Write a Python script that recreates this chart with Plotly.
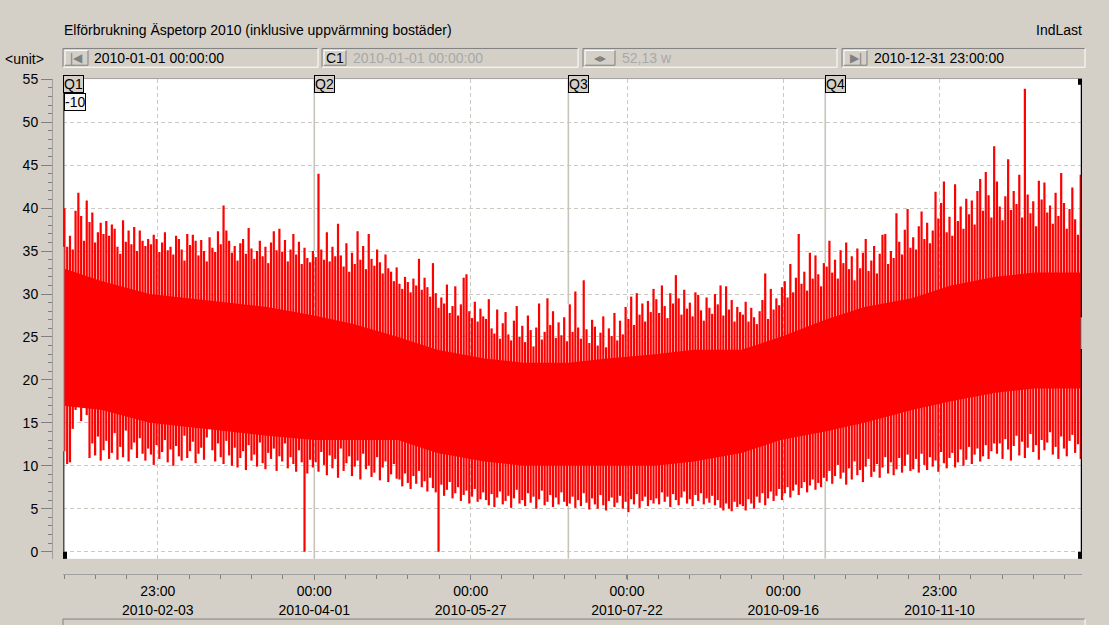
import plotly.graph_objects as go
import pandas as pd

# ---------------- data ----------------
# daily maximum ("<unit>") per month
max_jan = [40.0, 35.5, 36.8, 35.2, 39.7, 41.8, 39.1, 36.2, 40.9, 38.4, 39.5, 36.0, 37.2, 38.3, 37.0, 38.5,
           36.8, 38.1, 37.6, 35.5, 34.7, 38.6, 36.1, 37.4, 35.8, 37.8, 35.0, 37.4, 36.2, 35.6, 36.4]
max_feb = [35.8, 36.9, 36.4, 34.9, 36.0, 37.2, 35.1, 35.5, 34.6, 36.8, 36.4, 35.2, 33.9, 37.0, 35.7, 36.9,
           36.2, 34.5, 36.3, 35.0, 33.8, 36.6, 35.4, 34.9, 37.3, 35.8, 40.3, 37.4]
max_mar = [36.2, 34.8, 35.6, 33.9, 35.9, 36.4, 34.7, 37.7, 35.3, 34.1, 35.0, 36.2, 34.4, 35.5, 33.6, 36.0,
           37.3, 35.1, 37.6, 34.9, 36.3, 33.8, 35.2, 37.0, 34.6, 36.1, 33.5, 35.4, 34.2, 33.7, 35.0]
max_apr = [34.3, 44.0, 35.2, 34.0, 37.2, 33.8, 35.5, 34.4, 38.2, 34.5, 33.2, 35.9, 32.6, 34.8, 33.5, 37.3,
           34.0, 35.6, 32.9, 37.0, 34.1, 33.3, 35.2, 33.7, 32.4, 34.6, 33.0, 32.6, 31.5, 33.1]
max_may = [31.2, 30.6, 32.0, 31.4, 30.2, 31.8, 31.0, 34.1, 30.5, 31.9, 30.8, 29.7, 33.6, 30.1, 28.4, 29.6,
           28.9, 31.1, 27.8, 28.6, 30.9, 27.5, 28.8, 31.9, 32.3, 28.0, 27.2, 29.1, 26.8, 28.3, 27.4]
max_jun = [27.1, 29.4, 26.0, 25.4, 28.2, 24.8, 26.6, 27.9, 25.3, 24.6, 26.9, 28.6, 25.0, 26.3, 24.4, 27.5,
           25.8, 23.9, 26.1, 28.9, 24.7, 25.6, 29.5, 26.4, 28.0, 24.9, 26.7, 25.2, 27.3, 24.5]
max_jul = [28.8, 25.6, 30.3, 26.1, 24.8, 31.6, 25.9, 24.3, 27.0, 26.2, 24.0, 25.5, 27.4, 23.8, 26.0, 25.1,
           27.8, 24.6, 26.9, 25.3, 28.5, 27.1, 29.7, 26.4, 30.1, 27.6, 28.9, 26.8, 29.2, 27.9, 30.6]
max_aug = [29.4, 27.8, 31.0, 28.6, 27.2, 30.1, 28.9, 32.2, 29.5, 27.6, 30.5, 28.3, 29.0, 27.4, 30.2, 29.9,
           28.1, 26.9, 29.6, 28.4, 27.7, 30.0, 28.8, 31.0, 27.5, 30.9, 28.2, 29.3, 26.8, 28.5, 27.9]
max_sep = [27.6, 29.1, 26.8, 28.4, 27.3, 26.5, 28.0, 29.3, 32.4, 27.1, 30.6, 28.2, 29.5, 28.7, 30.8, 31.5,
           29.6, 33.5, 30.2, 31.9, 37.0, 31.2, 32.6, 30.4, 34.8, 31.8, 34.5, 32.3, 30.9, 33.6]
max_oct = [33.2, 36.2, 32.5, 34.0, 31.8, 35.1, 33.6, 36.0, 32.9, 34.4, 31.6, 35.3, 33.0, 34.8, 36.4, 32.7,
           33.9, 35.6, 32.4, 34.7, 36.9, 37.0, 33.5, 35.0, 34.2, 39.4, 36.1, 34.6, 37.5, 39.9, 35.4]
max_nov = [36.6, 35.2, 37.9, 39.6, 36.4, 38.3, 35.9, 37.4, 41.9, 38.8, 40.6, 43.1, 37.2, 39.0, 36.8, 42.8,
           38.5, 40.2, 37.6, 41.1, 39.3, 40.9, 38.1, 42.0, 43.4, 39.7, 44.2, 41.5, 38.9, 47.2]
max_dec = [43.1, 40.2, 38.6, 41.4, 45.7, 39.8, 42.0, 40.5, 43.9, 38.9, 53.9, 41.6, 39.4, 40.8, 37.9, 43.2,
           41.0, 43.0, 39.5, 40.3, 38.2, 41.8, 39.1, 44.1, 40.6, 37.6, 39.9, 42.4, 38.7, 36.9, 43.9]

# daily minimum per month
min_jan = [11.7, 10.2, 10.4, 14.3, 16.5, 17.3, 15.2, 16.8, 15.9, 10.9, 12.6, 11.2, 13.4, 10.6, 11.8, 12.9,
           10.8, 11.5, 13.8, 10.7, 12.2, 11.0, 14.1, 10.5, 11.9, 12.7, 10.9, 13.2, 11.4, 10.6, 12.0]
min_feb = [11.3, 10.1, 12.4, 10.8, 11.6, 13.0, 10.4, 11.9, 10.0, 12.3, 11.1, 10.6, 13.5, 10.9, 11.7, 12.8,
           10.3, 11.4, 12.1, 10.7, 13.3, 18.9, 11.8, 10.5, 12.6, 11.0, 10.2, 12.9]
min_mar = [11.2, 10.0, 12.1, 9.8, 10.9, 11.7, 9.5, 12.4, 10.6, 11.3, 9.9, 12.7, 10.3, 9.6, 11.5, 10.8,
           12.0, 9.4, 11.1, 10.5, 12.6, 9.7, 11.0, 10.2, 9.3, 11.8, 10.4, 0.0, 9.1, 10.7, 9.8]
min_apr = [10.4, 9.3, 11.6, 10.1, 8.9, 11.2, 9.7, 10.8, 8.6, 12.0, 9.4, 10.3, 11.1, 8.8, 9.9, 10.6,
           8.4, 11.4, 9.6, 10.0, 8.7, 9.2, 11.0, 8.3, 9.8, 10.5, 8.1, 9.0, 10.2, 8.5]
min_may = [8.4, 7.6, 9.1, 8.0, 7.3, 8.8, 7.9, 9.4, 7.5, 8.2, 7.0, 8.6, 7.4, 6.9, 0.0, 7.8,
           6.5, 7.2, 8.1, 6.2, 6.8, 7.5, 5.9, 6.6, 7.1, 5.6, 6.4, 7.3, 5.8, 6.1, 6.9]
min_jun = [6.0, 5.4, 6.7, 5.2, 6.3, 7.0, 5.5, 5.9, 6.5, 5.1, 6.2, 7.2, 5.6, 6.0, 5.3, 6.8,
           5.7, 6.4, 5.0, 6.1, 7.1, 5.4, 5.8, 6.6, 5.2, 6.3, 5.5, 6.9, 5.8, 5.3]
min_jul = [5.6, 6.4, 5.1, 6.0, 5.3, 6.8, 5.7, 4.9, 6.2, 5.5, 5.0, 6.6, 5.4, 4.8, 5.9, 6.3,
           5.2, 5.7, 6.5, 5.0, 5.8, 4.6, 6.1, 5.5, 6.7, 5.1, 5.9, 6.4, 5.3, 6.0, 5.6]
min_aug = [6.2, 5.5, 6.9, 5.8, 6.4, 5.2, 6.7, 6.0, 5.4, 6.3, 7.0, 5.6, 6.1, 5.3, 6.6, 5.9,
           6.8, 5.5, 6.2, 5.7, 6.5, 5.4, 6.0, 5.1, 4.8, 5.6, 5.0, 4.7, 5.8, 5.2, 5.5]
min_sep = [5.3, 4.8, 6.1, 5.6, 5.0, 6.4, 5.7, 6.8, 5.4, 6.2, 7.0, 5.9, 6.5, 7.3, 6.0, 6.8,
           7.5, 6.3, 7.1, 7.8, 6.6, 7.4, 8.1, 6.9, 7.7, 8.4, 7.2, 8.0, 7.5, 8.6]
min_oct = [8.2, 9.4, 7.9, 8.8, 10.1, 8.5, 9.2, 7.8, 9.7, 8.4, 10.5, 8.9, 9.5, 8.1, 9.9, 10.8,
           8.7, 9.3, 10.2, 8.6, 9.8, 11.0, 9.1, 10.4, 8.9, 9.6, 10.9, 9.2, 10.0, 11.3, 9.4]
min_nov = [9.6, 10.8, 9.2, 11.4, 10.1, 9.5, 11.0, 9.9, 10.6, 9.3, 11.6, 10.3, 9.7, 10.9, 11.5, 9.8,
           10.4, 11.9, 10.0, 10.7, 12.2, 10.2, 11.3, 12.0, 10.5, 11.1, 12.4, 10.8, 11.7, 12.6]
min_dec = [11.4, 12.6, 10.8, 13.1, 11.9, 10.6, 12.3, 13.5, 11.2, 12.8, 10.9, 12.1, 13.7, 11.6, 12.4, 10.7,
           13.0, 11.8, 12.7, 13.9, 11.3, 12.2, 10.8, 13.4, 12.0, 11.1, 12.9, 13.6, 11.5, 12.5, 10.8]

# solid core of the hourly band (semi-monthly)
core_dates = ["2010-01-01 00:00", "2010-01-15", "2010-02-01", "2010-02-15", "2010-03-01", "2010-03-15",
              "2010-04-01", "2010-04-15", "2010-05-01", "2010-05-15", "2010-06-01", "2010-06-15",
              "2010-07-01", "2010-07-15", "2010-08-01", "2010-08-15", "2010-09-01", "2010-09-15",
              "2010-10-01", "2010-10-15", "2010-11-01", "2010-11-15", "2010-12-01", "2010-12-15",
              "2010-12-31 23:00"]
core_high = [33.0, 31.5, 30.0, 29.5, 29.0, 28.5, 27.5, 26.5, 25.0, 23.5, 22.5, 22.0, 22.0, 22.5, 23.0,
             23.5, 23.5, 25.0, 27.0, 28.5, 29.5, 31.0, 32.0, 32.5, 32.5]
core_low = [17.0, 16.5, 15.0, 14.5, 14.0, 13.5, 13.0, 13.0, 13.0, 11.5, 10.5, 10.0, 10.0, 10.0, 10.0,
            10.5, 11.5, 13.0, 14.0, 15.0, 16.5, 17.5, 18.5, 19.0, 19.0]

# cursors
cursor_start = "2010-01-01 00:00"
cursor_end = "2010-12-31 23:00"
cursor_start_vals = [11.7, 35.5]
cursor_end_vals = [23.6, 27.3]

quarter_dates = ["2010-01-01 00:00", "2010-04-01", "2010-07-01", "2010-10-01"]
quarter_labels = ["Q1", "Q2", "Q3", "Q4"]

x_tickvals = ["2010-02-03 23:00", "2010-04-01 00:00", "2010-05-27 00:00",
              "2010-07-22 00:00", "2010-09-16 00:00", "2010-11-10 23:00"]
x_ticktext = ["23:00<br>2010-02-03", "00:00<br>2010-04-01", "00:00<br>2010-05-27",
              "00:00<br>2010-07-22", "00:00<br>2010-09-16", "23:00<br>2010-11-10"]
y_tickvals = [0, 5, 10, 15, 20, 25, 30, 35, 40, 45, 50, 55]
y_range = [-0.84, 55.07]

daily_max = (max_jan + max_feb + max_mar + max_apr + max_may + max_jun +
             max_jul + max_aug + max_sep + max_oct + max_nov + max_dec)
daily_min = (min_jan + min_feb + min_mar + min_apr + min_may + min_jun +
             min_jul + min_aug + min_sep + min_oct + min_nov + min_dec)
assert len(daily_max) == 365 and len(daily_min) == 365
days = pd.date_range("2010-01-01 12:00", periods=365, freq="D")

spike_x, spike_y = [], []
for d, lo, hi in zip(days, daily_min, daily_max):
    spike_x += [d, d, None]
    spike_y += [lo, hi, None]

# closed polygon for the solid core
core_poly_x = core_dates + core_dates[::-1]
core_poly_y = core_high + core_low[::-1]

# quarter marker lines: only the parts outside the data band are visible (the band hides the rest)
year_start = pd.Timestamp("2010-01-01")
q_x, q_y = [], []
for qd in quarter_dates[1:]:
    i = (pd.Timestamp(qd) - year_start).days
    top = max(daily_max[i - 1], daily_max[i])
    bot = min(daily_min[i - 1], daily_min[i])
    q_x += [qd, qd, None, qd, qd, None]
    q_y += [y_range[1], top, None, bot, y_range[0], None]

# ---------------- figure ----------------
W, H = 1109, 625
BG = "#d4d0c8"
FONT = "Liberation Sans"
RED = "#ff0000"
DAY_MS = 86400000


def px(x):
    return x / W


def py(y):
    return 1 - y / H


fig = go.Figure()
fig.add_trace(go.Scatter(x=q_x, y=q_y, mode="lines", line=dict(width=1.6, color="#c8c4bc"),
                         hoverinfo="skip"))
fig.add_trace(go.Scatter(x=[cursor_start, cursor_start], y=y_range, mode="lines",
                         line=dict(width=3, color="#505050"), hoverinfo="skip"))
fig.add_trace(go.Scatter(x=core_poly_x, y=core_poly_y, mode="lines", line=dict(width=0, color=RED),
                         fill="toself", fillcolor=RED, hoverinfo="skip"))
fig.add_trace(go.Scatter(x=spike_x, y=spike_y, mode="lines", line=dict(width=2.2, color=RED),
                         name="IndLast"))
fig.add_trace(go.Scatter(x=[cursor_start, cursor_start], y=cursor_start_vals, mode="lines",
                         line=dict(width=2.5, color="#30e0e8"), hoverinfo="skip"))
fig.add_trace(go.Scatter(x=[cursor_end, cursor_end], y=y_range, mode="lines",
                         line=dict(width=2.5, color="#000000"), hoverinfo="skip"))
fig.add_trace(go.Scatter(x=[cursor_end, cursor_end], y=cursor_end_vals, mode="lines",
                         line=dict(width=2.5, color="#30e0e8"), hoverinfo="skip"))

shapes = []
annotations = []

# top border of plot area
shapes.append(dict(type="line", xref="paper", yref="paper", x0=px(63), x1=px(1082), y0=py(72.5), y1=py(72.5),
                   line=dict(color="#a0a0a0", width=1)))
# cursor handles
for cx, sx0, sx1 in [(cursor_start, 0, 4), (cursor_end, -4, 0)]:
    shapes.append(dict(type="rect", xref="x", xsizemode="pixel", xanchor=cx, x0=sx0, x1=sx1,
                       yref="y domain", ysizemode="pixel", yanchor=1, y0=0, y1=-6,
                       fillcolor="#000000", line=dict(width=0)))
    shapes.append(dict(type="rect", xref="x", xsizemode="pixel", xanchor=cx, x0=sx0, x1=sx1,
                       yref="y domain", ysizemode="pixel", yanchor=0, y0=0, y1=7,
                       fillcolor="#000000", line=dict(width=0)))

# quarter labels
for qd, ql in zip(quarter_dates, quarter_labels):
    annotations.append(dict(x=qd, xref="x", y=py(69), yref="paper", text=ql, showarrow=False,
                            xanchor="left", yanchor="top", xshift=0,
                            font=dict(family=FONT, size=14, color="#000"),
                            bgcolor=BG, bordercolor="#000", borderwidth=1, borderpad=0))
annotations.append(dict(x=quarter_dates[0], xref="x", y=py(87), yref="paper", text="-10", showarrow=False,
                        xanchor="left", yanchor="top", xshift=1,
                        font=dict(family=FONT, size=14, color="#000"),
                        bgcolor="#f4f4f4", bordercolor="#000", borderwidth=1, borderpad=0))


# header UI
def sunken(x0, y0, x1, y1):
    shapes.append(dict(type="rect", xref="paper", yref="paper", x0=px(x0), x1=px(x1), y0=py(y1), y1=py(y0),
                       fillcolor=BG, line=dict(width=0)))
    for (a, b, c, d, col) in [(x0, y0, x1, y0, "#808080"), (x0, y0, x0, y1, "#808080"),
                              (x0, y1, x1, y1, "#ffffff"), (x1, y0, x1, y1, "#ffffff")]:
        shapes.append(dict(type="line", xref="paper", yref="paper", x0=px(a), x1=px(c), y0=py(b), y1=py(d),
                           line=dict(color=col, width=1)))


def raised(x0, y0, x1, y1):
    for (a, b, c, d, col) in [(x0, y0, x1, y0, "#ffffff"), (x0, y0, x0, y1, "#ffffff"),
                              (x0, y1, x1, y1, "#808080"), (x1, y0, x1, y1, "#808080")]:
        shapes.append(dict(type="line", xref="paper", yref="paper", x0=px(a), x1=px(c), y0=py(b), y1=py(d),
                           line=dict(color=col, width=1)))


def label(x, y, text, color="#000", anchor="left", size=14):
    annotations.append(dict(x=px(x), y=py(y), xref="paper", yref="paper", text=text, showarrow=False,
                            xanchor=anchor, yanchor="middle",
                            font=dict(family=FONT, size=size, color=color)))


boxes = [
    (63, 318, 65, 88, "|◀", "#808080", 92, "2010-01-01 00:00:00", "#000"),
    (322, 578, 324, 346, "C1", "#000", 351, "2010-01-01 00:00:00", "#a8a8a8"),
    (583, 837, 585, 615, "◂▸", "#808080", 620, "52,13 w", "#a8a8a8"),
    (842, 1085, 844, 867, "▶|", "#808080", 872, "2010-12-31 23:00:00", "#000"),
]
for bx0, bx1, bb0, bb1, glyph, gcol, tx, txt, tcol in boxes:
    sunken(bx0, 42, bx1, 61)
    raised(bb0, 44, bb1, 59)
    label((bb0 + bb1) / 2, 51.5, glyph, gcol, "center", 12 if glyph != "C1" else 14)
    label(tx, 51.5, txt, tcol)

label(62, 23, "Elförbrukning Äspetorp 2010 (inklusive uppvärmning bostäder)")
label(1084, 23, "IndLast", anchor="right")
label(3, 52.5, "&lt;unit&gt;")

# bottom scrollbar strip
sunken(63, 620, 1085, 632)

grid_col = "#cdc9c1"
fig.update_layout(
    width=W, height=H, autosize=False,
    margin=dict(l=0, r=0, t=0, b=0, pad=0),
    paper_bgcolor=BG, plot_bgcolor="#ffffff",
    showlegend=False,
    shapes=shapes, annotations=annotations,
    font=dict(family=FONT, size=14, color="#000"),
    xaxis=dict(
        type="date", domain=[px(63), px(1082)],
        range=["2010-01-01 00:00", "2010-12-31 23:00"],
        anchor="free", position=py(574),
        showline=True, linecolor="#a0a0a0", linewidth=1,
        ticks="outside", ticklen=5, tickcolor="#808080",
        tickmode="array", tickvals=x_tickvals, ticktext=x_ticktext,
        tickfont=dict(family=FONT, size=14, color="#000"),
        showgrid=True, gridcolor=grid_col, griddash="4px,3px", gridwidth=1,
        zeroline=False,
        minor=dict(tickmode="linear", tick0="2010-02-03 23:00", dtick=11.2 * DAY_MS,
                   ticks="outside", ticklen=4, tickcolor="#808080", showgrid=False),
    ),
    yaxis=dict(
        domain=[py(559), py(72.7)],
        range=y_range,
        anchor="free", position=px(52),
        showline=True, linecolor="#a0a0a0", linewidth=1,
        ticks="outside", ticklen=11, tickcolor="#808080",
        tickmode="array", tickvals=y_tickvals,
        tickfont=dict(family=FONT, size=14, color="#000"),
        showgrid=True, gridcolor=grid_col, griddash="4px,3px", gridwidth=1,
        zeroline=False,
        minor=dict(tickmode="linear", tick0=0, dtick=1, ticks="outside", ticklen=4,
                   tickcolor="#808080", showgrid=False),
    ),
)

fig.write_html("out.html")
